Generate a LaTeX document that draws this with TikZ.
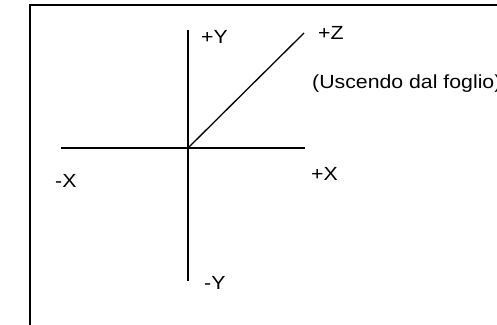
\documentclass[tikz,border=0pt]{standalone}
\usepackage{fontspec}
\setmainfont[FakeStretch=1.12]{Liberation Sans}
\begin{document}
\begin{tikzpicture}[x=1pt,y=-1pt,
  axis/.style={line width=1.6pt,black},
  frame/.style={line width=2.2pt,black},
  lbl/.style={inner sep=0pt,anchor=base west,font=\fontsize{19}{21}\selectfont,text=black}]
\useasboundingbox (0,0) rectangle (497,324);
% frame
\coordinate (fbl) at (30,325);
\coordinate (ftl) at (30,5);
\coordinate (ftr) at (498,5);
\draw[frame] (fbl) -- (ftl) -- (ftr);
% axes
\coordinate (O) at (188,148);
\coordinate (ytop) at (188,30);
\coordinate (ybot) at (188,281);
\coordinate (xleft) at (61,148);
\coordinate (xright) at (305,148);
\coordinate (zend) at (304,33);
\draw[axis] (ytop) -- (ybot);
\draw[axis] (xleft) -- (xright);
\draw[line width=1.3pt] (O) -- (zend);
% labels
\node[lbl] (py) at (201,43) {+Y};
\node[lbl] (pz) at (318,39) {+Z};
\node[lbl] (usc) at (312,88) {(Uscendo dal foglio)};
\node[lbl] (mx) at (55,187) {-X};
\node[lbl] (px) at (311,180) {+X};
\node[lbl] (my) at (204,289) {-Y};
\end{tikzpicture}
\end{document}
